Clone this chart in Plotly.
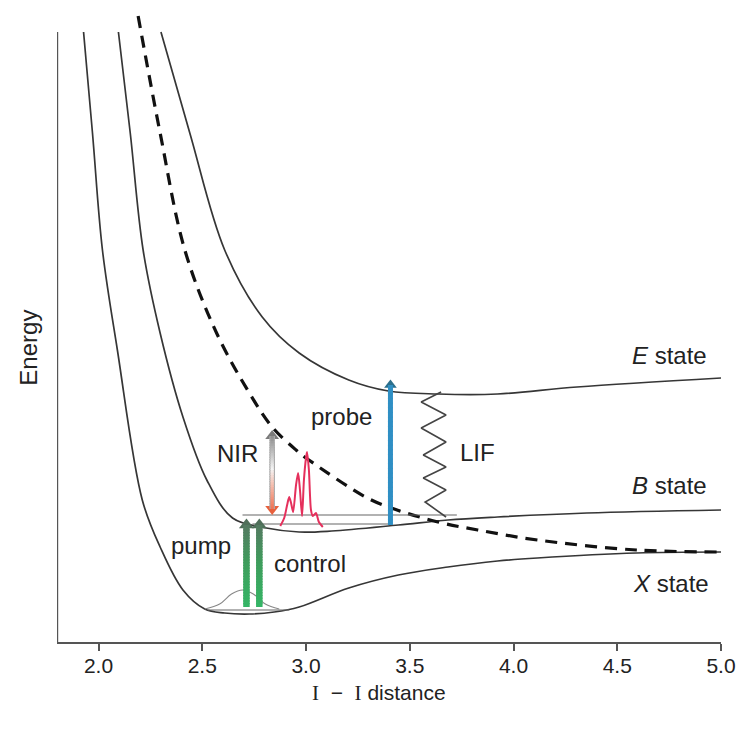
import plotly.graph_objects as go

# ---------------- data (I–I distance, energy in arbitrary units) ----------------
x_state_r = [1.928, 1.971, 2.019, 2.091, 2.211, 2.297, 2.407, 2.512, 2.608, 2.727, 2.847,
             2.967, 3.206, 3.445, 3.684, 3.923, 4.115, 4.593, 5.0]
x_state_e = [6.08, 5.07, 3.90, 2.90, 1.40, 0.93, 0.50, 0.31, 0.27, 0.26, 0.28,
             0.33, 0.52, 0.65, 0.73, 0.79, 0.82, 0.87, 0.88]

b_state_r = [2.096, 2.153, 2.215, 2.297, 2.407, 2.522, 2.646, 2.809, 2.967, 3.124,
             3.445, 3.684, 3.923, 4.354, 5.0]
b_state_e = [6.08, 5.07, 3.90, 3.07, 2.23, 1.60, 1.22, 1.12, 1.08, 1.09,
             1.15, 1.20, 1.23, 1.27, 1.30]

e_state_r = [2.301, 2.440, 2.608, 2.789, 2.967, 3.206, 3.397, 3.636, 3.923, 4.306, 5.0]
e_state_e = [6.08, 5.07, 3.90, 3.23, 2.87, 2.60, 2.49, 2.46, 2.46, 2.53, 2.62]

rep_r = [2.191, 2.297, 2.416, 2.569, 2.727, 2.837, 2.952, 3.014, 3.287, 3.411,
         3.636, 3.828, 4.115, 4.593, 5.0]
rep_e = [6.24, 5.07, 3.90, 3.07, 2.47, 2.13, 1.90, 1.80, 1.43, 1.32,
         1.18, 1.10, 1.00, 0.90, 0.88]

# vibrational level lines: (r_start, r_end, energy)
level_r0 = [2.526, 2.694, 2.742]
level_r1 = [2.919, 3.727, 3.411]
level_e = [0.30, 1.25, 1.16]

# ground-state wave packet
gwp_r = [2.512, 2.584, 2.641, 2.694, 2.746, 2.804, 2.871]
gwp_e = [0.31, 0.36, 0.46, 0.50, 0.46, 0.36, 0.31]

# B-state wave packet
bwp_r = [2.876, 2.895, 2.909, 2.919, 2.928, 2.938, 2.952, 2.962, 2.971, 2.981, 2.990,
         3.000, 3.005, 3.014, 3.024, 3.033, 3.048, 3.062, 3.081]
bwp_e = [1.14, 1.22, 1.35, 1.43, 1.37, 1.28, 1.55, 1.67, 1.50, 1.24, 1.60,
         1.82, 1.88, 1.70, 1.30, 1.24, 1.27, 1.18, 1.13]

# transitions
pump_r, control_r = 2.713, 2.775
pump_e0, pump_e1 = 0.33, 1.21
nir_r, nir_e0, nir_e1 = 2.837, 1.25, 2.10
probe_r, probe_e0, probe_e1 = 3.407, 1.15, 2.61

lif_r = [3.651, 3.555, 3.675, 3.555, 3.675, 3.565, 3.675, 3.565, 3.675, 3.574, 3.675]
lif_e = [2.48, 2.38, 2.25, 2.12, 1.98, 1.85, 1.73, 1.62, 1.50, 1.38, 1.23]

tick_vals = [2.0, 2.5, 3.0, 3.5, 4.0, 4.5, 5.0]
tick_text = ["2.0", "2.5", "3.0", "3.5", "4.0", "4.5", "5.0"]

# ---------------- helpers ----------------
def hex2rgb(h):
    h = h.lstrip('#')
    return tuple(int(h[i:i + 2], 16) for i in (0, 2, 4))

def mix(c1, c2, t):
    a, b = hex2rgb(c1), hex2rgb(c2)
    return 'rgb(%d,%d,%d)' % tuple(round(a[i] + (b[i] - a[i]) * t) for i in range(3))

def grad_stops(stops, t):
    for i in range(len(stops) - 1):
        t0, c0 = stops[i]
        t1, c1 = stops[i + 1]
        if t <= t1:
            return mix(c0, c1, (t - t0) / (t1 - t0) if t1 > t0 else 0)
    return mix(stops[-1][1], stops[-1][1], 0)

shapes = []

def gradient_shaft(r, e0, e1, stops, width, n=30):
    # stops: list of (t, color), t=0 at e0 (bottom), t=1 at e1 (top)
    span = e1 - e0
    ov = 0.012
    for i in range(n):
        ta, tb = i / n, (i + 1) / n
        ya = e0 + span * ta
        yb = min(e0 + span * tb + ov, e1) if i < n - 1 else e1
        shapes.append(dict(type='line', xref='x', yref='y', x0=r, x1=r,
                           y0=ya, y1=yb,
                           line=dict(color=grad_stops(stops, (ta + tb) / 2), width=width),
                           layer='above'))

fig = go.Figure()

curve_col = '#363636'
for r, e in [(x_state_r, x_state_e), (b_state_r, b_state_e), (e_state_r, e_state_e)]:
    fig.add_trace(go.Scatter(x=r, y=e, mode='lines',
                             line=dict(color=curve_col, width=1.7, shape='spline', smoothing=1.0),
                             hoverinfo='skip'))
fig.add_trace(go.Scatter(x=rep_r, y=rep_e, mode='lines',
                         line=dict(color='#111111', width=3.2, dash='12px,8px',
                                   shape='spline', smoothing=1.0),
                         hoverinfo='skip'))

# level lines
for r0, r1, e in zip(level_r0, level_r1, level_e):
    fig.add_trace(go.Scatter(x=[r0, r1], y=[e, e], mode='lines',
                             line=dict(color='#666666', width=1.1), hoverinfo='skip'))

# wave packets
fig.add_trace(go.Scatter(x=gwp_r, y=gwp_e, mode='lines',
                         line=dict(color='#888888', width=1.1, shape='spline', smoothing=1.0),
                         hoverinfo='skip'))
fig.add_trace(go.Scatter(x=bwp_r, y=bwp_e, mode='lines',
                         line=dict(color='#e5305c', width=2.0, shape='spline', smoothing=0.7),
                         hoverinfo='skip'))

# LIF zigzag
fig.add_trace(go.Scatter(x=lif_r, y=lif_e, mode='lines',
                         line=dict(color='#444444', width=1.6), hoverinfo='skip'))

# pump & control arrows (shaft + head)
head_off = 0.06
for r in (pump_r, control_r):
    gradient_shaft(r, pump_e0, pump_e1 - head_off,
                   [(0, '#35b566'), (0.55, '#3f9c5c'), (1, '#557a62')], 6.5)
fig.add_trace(go.Scatter(x=[pump_r, control_r], y=[pump_e1 - head_off] * 2, mode='markers',
                         marker=dict(symbol='triangle-up', size=13, color='#4f6f5a',
                                     line=dict(width=0)),
                         hoverinfo='skip'))

# NIR double arrow
gradient_shaft(nir_r, nir_e0 + head_off, nir_e1 - head_off,
               [(0, '#aaaaaa'), (1, '#aaaaaa')], 5.5)
gradient_shaft(nir_r, nir_e0 + head_off, nir_e1 - head_off,
               [(0, '#f07252'), (0.35, '#f6c4b6'), (0.55, '#f4f4f4'), (1, '#8c8c8c')], 3.2)
fig.add_trace(go.Scatter(x=[nir_r], y=[nir_e1 - head_off], mode='markers',
                         marker=dict(symbol='triangle-up', size=12, color='#7a7a7a',
                                     line=dict(width=0)), hoverinfo='skip'))
fig.add_trace(go.Scatter(x=[nir_r], y=[nir_e0 + head_off], mode='markers',
                         marker=dict(symbol='triangle-down', size=12, color='#e8603c',
                                     line=dict(width=0)), hoverinfo='skip'))

# probe arrow
gradient_shaft(probe_r, probe_e0, probe_e1 - head_off,
               [(0, '#2f8fc4'), (1, '#2f8fc4')], 5)
fig.add_trace(go.Scatter(x=[probe_r], y=[probe_e1 - head_off], mode='markers',
                         marker=dict(symbol='triangle-up', size=11, color='#2b6f8c',
                                     line=dict(width=0)), hoverinfo='skip'))

# y axis line (drawn as shape so it stops at the top of the curves)
shapes.append(dict(type='line', xref='x', yref='y', x0=1.8, x1=1.8, y0=-0.02, y1=6.08,
                   line=dict(color='#555555', width=2.4)))

font_main = 'Arial, Liberation Sans, sans-serif'
ann = []
def txt(x, y, s, size=24, xanchor='center'):
    ann.append(dict(x=x, y=y, xref='x', yref='y', text=s, showarrow=False,
                    font=dict(family=font_main, size=size, color='#222222'),
                    xanchor=xanchor, yanchor='middle'))

txt(4.943, 2.85, '<i>E</i> state', 24, 'right')
txt(4.943, 1.55, '<i>B</i> state', 24, 'right')
txt(4.952, 0.57, '<i>X</i> state', 24, 'right')
txt(3.172, 2.24, 'probe')
txt(2.670, 1.87, 'NIR')
txt(3.828, 1.88, 'LIF')
txt(2.493, 0.95, 'pump')
txt(3.019, 0.77, 'control')

# axis titles (paper coordinates, outside the plotting area)
ann.append(dict(x=-0.043, y=0.465, xref='paper', yref='paper', text='Energy',
                showarrow=False, textangle=-90, xanchor='center', yanchor='middle',
                font=dict(family=font_main, size=24, color='#222222')))
ann.append(dict(x=0.485, y=-0.080, xref='paper', yref='paper',
                text="<span style='font-family:Liberation Serif'>I</span>  −  "
                     "<span style='font-family:Liberation Serif'>I</span> distance",
                showarrow=False, xanchor='center', yanchor='middle',
                font=dict(family=font_main, size=21, color='#222222')))

fig.update_layout(
    width=744, height=731,
    margin=dict(l=57, r=19, t=8, b=89),
    paper_bgcolor='white', plot_bgcolor='white',
    showlegend=False,
    shapes=shapes,
    annotations=ann,
    xaxis=dict(range=[1.8, 5.0], showgrid=False, zeroline=False,
               showline=True, linecolor='#555555', linewidth=2.4,
               ticks='outside', ticklen=7, tickwidth=2, tickcolor='#555555',
               tickvals=tick_vals, ticktext=tick_text, ticklabelstandoff=-3,
               tickfont=dict(family=font_main, size=21, color='#222222'),
               fixedrange=True),
    yaxis=dict(range=[-0.02, 6.32], showgrid=False, zeroline=False, showline=False,
               showticklabels=False, ticks='', fixedrange=True),
)

fig.write_html("out.html", config={'displayModeBar': False},
               post_script="document.body.style.margin='0';document.body.style.padding='0';")
